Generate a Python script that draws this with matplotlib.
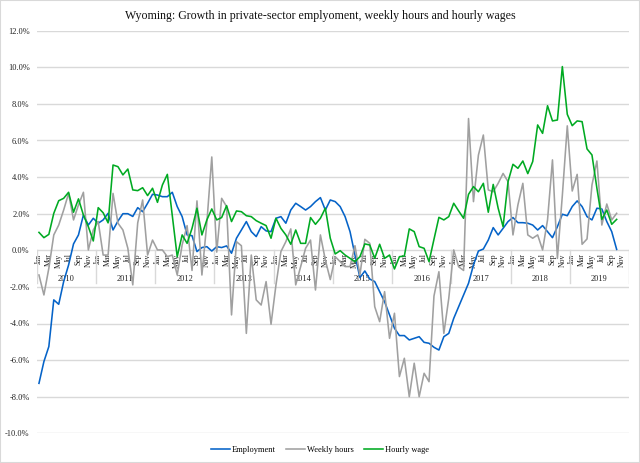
import matplotlib
matplotlib.use('Agg')
import matplotlib.pyplot as plt
from matplotlib.patches import Rectangle
from matplotlib.lines import Line2D

years = [2010, 2011, 2012, 2013, 2014, 2015, 2016, 2017, 2018, 2019]
month_names = ['Jan', 'Feb', 'Mar', 'Apr', 'May', 'Jun',
               'Jul', 'Aug', 'Sep', 'Oct', 'Nov', 'Dec']

# Monthly values, Jan 2010 - Oct 2019 (% change)
employment = [
    -7.27, -6.08, -5.26, -2.71, -2.95, -1.71, -0.80, 0.35, 0.84, 1.93, 1.38, 1.75,
    1.48, 1.66, 2.02, 1.11, 1.60, 2.00, 2.00, 1.85, 2.33, 2.11, 2.57, 3.06,
    3.02, 2.93, 2.93, 3.17, 2.39, 1.84, 0.84, 0.80, -0.07, 0.15, 0.20, -0.04,
    0.20, 0.15, 0.24, -0.16, 0.66, 1.11, 1.57, 1.02, 0.75, 1.29, 1.06, 1.02,
    1.75, 1.84, 1.48, 2.20, 2.57, 2.39, 2.20, 2.39, 2.66, 2.88, 2.20, 2.75,
    2.66, 2.39, 1.84, 1.02, -0.26, -1.49, -1.13, -1.57, -1.71, -2.26, -2.81, -3.53,
    -4.26, -4.66, -4.66, -4.90, -4.81, -4.72, -5.03, -5.08, -5.30, -5.45, -4.72, -4.54,
    -3.72, -3.08, -2.44, -1.80, -0.80, -0.04, 0.07, 0.56, 1.24, 0.84, 1.20, 1.57,
    1.79, 1.51, 1.51, 1.48, 1.38, 1.11, 1.35, 1.02, 0.69, 1.29, 1.97, 1.89,
    2.39, 2.70, 2.39, 1.84, 1.66, 2.30, 2.26, 1.57, 1.02, 0.05,
]
weekly_hours = [
    -1.35, -2.44, -0.98, 0.84, 1.38, 2.20, 3.11, 1.66, 2.48, 3.17, 0.02, 1.11,
    1.57, -0.26, -0.26, 3.11, 1.48, 1.11, 0.11, -1.89, 1.50, 2.75, -0.26, 0.56,
    0.02, 0.02, -0.35, -0.26, -1.35, 0.30, 1.35, -1.10, 2.70, -1.35, 1.50, 5.10,
    -0.10, 2.84, 2.39, -3.53, 0.47, 0.25, -4.54, -0.26, -2.71, -2.99, -1.71, -4.04,
    -1.89, -0.07, 0.47, 1.17, -1.89, -0.89, 0.11, 0.56, -2.17, 0.84, -0.53, -1.60,
    -0.35, -0.62, -0.89, -0.89, 0.25, -1.35, 0.60, 0.38, -3.08, -3.90, -2.26, -4.81,
    -3.44, -6.90, -5.90, -8.00, -6.17, -8.00, -6.72, -7.18, -2.50, -1.17, -4.54, -2.62,
    0.02, -0.90, -1.10, 7.20, 2.66, 5.20, 6.30, 3.30, 3.20, 3.66, 4.20, 3.75,
    0.84, 2.48, 3.66, 0.84, 0.66, 0.84, 0.02, 1.66, 4.94, -0.44, 3.00, 6.80,
    3.24, 4.15, 0.33, 0.62, 3.57, 4.88, 1.38, 2.53, 1.66, 2.02,
]
hourly_wage = [
    0.98, 0.69, 0.87, 2.02, 2.71, 2.84, 3.17, 2.08, 2.81, 1.93, 1.29, 0.51,
    2.33, 2.05, 1.50, 4.66, 4.57, 4.12, 4.44, 3.30, 3.26, 3.42, 2.99, 3.39,
    2.62, 3.57, 4.15, 1.90, -0.35, 0.84, 0.38, 1.20, 2.30, 0.84, 1.66, 2.26,
    1.66, 1.79, 2.44, 1.57, 2.15, 2.11, 1.89, 1.84, 1.62, 1.48, 1.35, 0.66,
    1.75, 1.20, 0.84, 0.33, 1.11, 0.38, 0.38, 1.79, 1.42, 1.75, 2.30, 0.66,
    -0.20, -0.02, -0.26, -0.44, -0.62, -0.35, 0.35, 0.29, -0.44, 0.33, -0.44, -0.26,
    -1.02, -0.35, -0.31, 1.17, 1.02, 0.20, 0.11, -0.62, 0.60, 1.80, 1.66, 1.84,
    2.57, 2.15, 1.75, 3.06, 3.48, 3.20, 3.66, 2.08, 3.60, 2.30, 1.29, 3.75,
    4.70, 4.48, 4.88, 4.19, 4.85, 6.85, 6.39, 7.90, 7.07, 7.12, 10.04, 7.43,
    6.81, 7.07, 7.03, 5.54, 5.21, 3.39, 1.69, 2.20, 1.42, 1.69,
]
yticks = [-10, -8, -6, -4, -2, 0, 2, 4, 6, 8, 10, 12]

series_names = ['Employment', 'Weekly hours', 'Hourly wage']
series_colors = ['#0563C8', '#A0A0A0', '#00AA22']
title = 'Wyoming: Growth in private-sector emplyoment, weekly hours and hourly wages'

plt.rcParams['font.family'] = ['Liberation Serif', 'DejaVu Serif']

W, H = 640, 463
fig = plt.figure(figsize=(W / 100, H / 100), dpi=100)
left, right, top, bottom = 36.5, 629.0, 30.7, 433.3
ax = fig.add_axes([left / W, 1 - bottom / H, (right - left) / W, (bottom - top) / H])

n_cat = len(years) * 12
ax.set_xlim(-0.5, n_cat - 0.5)
ax.set_ylim(yticks[0], yticks[-1])
ax.set_yticks(yticks)
ax.set_yticklabels([f'{v:.1f}%' for v in yticks], fontsize=6, color='#222222')
ax.tick_params(axis='y', length=0, pad=5)
ax.set_xticks([])
ax.grid(axis='y', color='#D9D9D9', lw=1)
for s in ax.spines.values():
    s.set_visible(False)
ax.set_axisbelow(True)

# multi-level category axis drawn at y = 0
for k in range(n_cat):
    if k % 2 == 0:
        ax.text(k, -0.17, month_names[k % 12], rotation=90, ha='center', va='top',
                fontsize=5.6, color='#222222', zorder=1)
for j, yr in enumerate(years):
    ax.text(12 * j + 5.5, -1.58, str(yr), ha='center', va='center',
            fontsize=6, color='#222222', zorder=1)
for j in range(len(years) + 1):
    ax.plot([12 * j - 0.5] * 2, [0, -1.8], color='#D9D9D9', lw=1, zorder=1)

xs = list(range(len(employment)))
for vals, name, col in zip([employment, weekly_hours, hourly_wage], series_names, series_colors):
    ax.plot(xs, vals, color=col, lw=1.15, label=name, zorder=3, solid_joinstyle='round')

handles = [Line2D([0], [0], color=c, lw=1.15) for c in series_colors]
fig.legend(handles, series_names, loc='center', bbox_to_anchor=(0.5, 1 - 450 / H),
           ncol=3, frameon=False, fontsize=6, handlelength=2.3, handletextpad=0.25,
           columnspacing=1.2)

fig.text(0.5, 1 - 16 / H, title, ha='center', va='center', fontsize=8.6, color='#111111')

fig.patches.append(Rectangle((0, 0), 1, 1, transform=fig.transFigure, fill=False,
                             edgecolor='#D9D9D9', lw=1.5))

fig.savefig('out.png', dpi=100)
